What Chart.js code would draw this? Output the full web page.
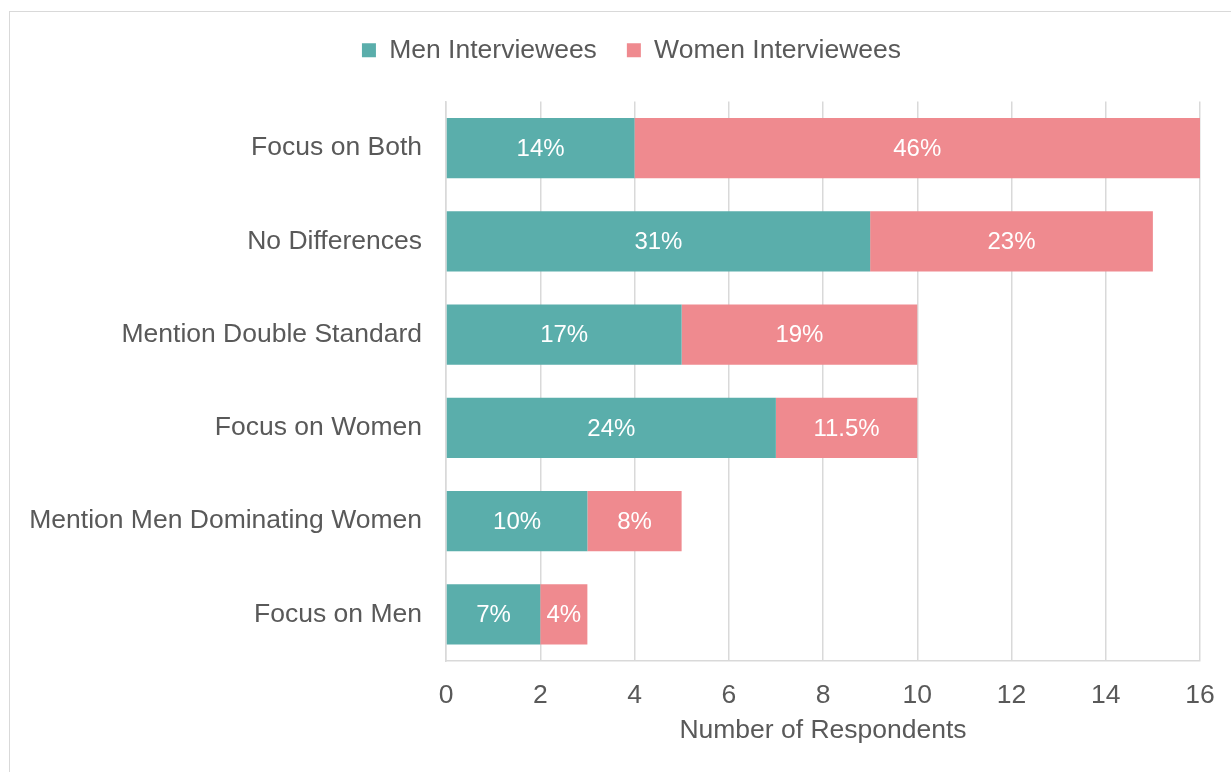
<!DOCTYPE html>
<html>
<head>
<meta charset="utf-8">
<script src="https://cdn.jsdelivr.net/npm/chart.js@4"></script>
<style>
  html, body { margin: 0; padding: 0; background: #fff; overflow: hidden; }
  #frame { position: absolute; left: 9px; top: 11px; width: 1240px; height: 800px;
           border: 1.5px solid #d9d9d9; box-sizing: border-box; }
  #wrap { position: absolute; left: 0; top: 0; width: 1231px; height: 772px; }
</style>
</head>
<body>
<div id="frame"></div>
<div id="wrap"><canvas id="chartThemes"></canvas></div>
<script>
const categories = [
  "Focus on Both",
  "No Differences",
  "Mention Double Standard",
  "Focus on Women",
  "Mention Men Dominating Women",
  "Focus on Men",
];
const menCounts = [4, 9, 5, 7, 3, 2];
const womenCounts = [12, 6, 5, 3, 2, 1];
const menLabels = ["14%", "31%", "17%", "24%", "10%", "7%"];
const womenLabels = ["46%", "23%", "19%", "11.5%", "8%", "4%"];
const xTicks = [0, 2, 4, 6, 8, 10, 12, 14, 16];

const textColor = "#595959";
const gridColor = "#d9d9d9";
const fontFamily = "'Liberation Sans', Arial, sans-serif";
const fontSize = 26.5;

// writes the percentage text in the middle of every bar segment
const segmentLabels = {
  id: "segmentLabels",
  afterDatasetsDraw(chart) {
    const ctx = chart.ctx;
    ctx.save();
    ctx.fillStyle = "#ffffff";
    ctx.font = `24px ${fontFamily}`;
    ctx.textAlign = "center";
    ctx.textBaseline = "middle";
    chart.data.datasets.forEach((ds, i) => {
      const meta = chart.getDatasetMeta(i);
      meta.data.forEach((bar, j) => {
        const p = bar.getCenterPoint();
        ctx.fillText(ds.segmentText[j], p.x, p.y + 1);
      });
    });
    ctx.restore();
  },
};

// extra room under the legend, and legend nudged right like the original
const legendSpace = {
  id: "legendSpace",
  beforeInit(chart) {
    const legend = chart.legend;
    const fit = legend.fit;
    legend.fit = function () {
      fit.bind(legend)();
      this.height += 28;
    };
    const draw = legend.draw;
    legend.draw = function () {
      const ctx = chart.ctx;
      ctx.save();
      ctx.translate(16, 0);
      draw.bind(legend)();
      ctx.restore();
    };
  },
};

const chartElement = document.querySelector("#chartThemes");

new Chart(chartElement, {
  type: "bar",
  data: {
    labels: categories,
    datasets: [
      {
        label: "Men Interviewees",
        data: menCounts,
        segmentText: menLabels,
        backgroundColor: "#5aaeab",
        barPercentage: 0.645,
        categoryPercentage: 1,
      },
      {
        label: "Women Interviewees",
        data: womenCounts,
        segmentText: womenLabels,
        backgroundColor: "#ef8a8f",
        barPercentage: 0.645,
        categoryPercentage: 1,
      },
    ],
  },
  plugins: [segmentLabels, legendSpace],
  options: {
    indexAxis: "y",
    responsive: true,
    maintainAspectRatio: false,
    animation: false,
    layout: { padding: { top: 7, right: 0, bottom: 20, left: 0 } },
    plugins: {
      legend: {
        position: "top",
        labels: {
          boxWidth: 14,
          boxHeight: 14,
          padding: 30,
          color: textColor,
          font: { family: fontFamily, size: fontSize },
        },
      },
      tooltip: { enabled: false },
    },
    scales: {
      x: {
        stacked: true,
        min: 0,
        max: 16,
        afterBuildTicks: (scale) => {
          scale.ticks = xTicks.map((v) => ({ value: v }));
        },
        grid: { color: gridColor, lineWidth: 1.5, drawTicks: false },
        border: { color: gridColor, width: 1.5 },
        ticks: {
          color: textColor,
          padding: 19,
          font: { family: fontFamily, size: fontSize },
        },
        title: {
          display: true,
          text: "Number of Respondents",
          color: textColor,
          padding: { top: 4, bottom: 5 },
          font: { family: fontFamily, size: fontSize },
        },
        afterFit: (scale) => {
          scale.height = 772 - 661 - 20;
          scale.paddingRight = 31;
        },
      },
      y: {
        stacked: true,
        grid: { display: false, drawTicks: false },
        border: { color: gridColor, width: 1.5 },
        ticks: {
          color: textColor,
          padding: 24,
          font: { family: fontFamily, size: fontSize },
        },
        afterFit: (scale) => {
          scale.width = 446;
        },
      },
    },
  },
});
</script>
</body>
</html>
